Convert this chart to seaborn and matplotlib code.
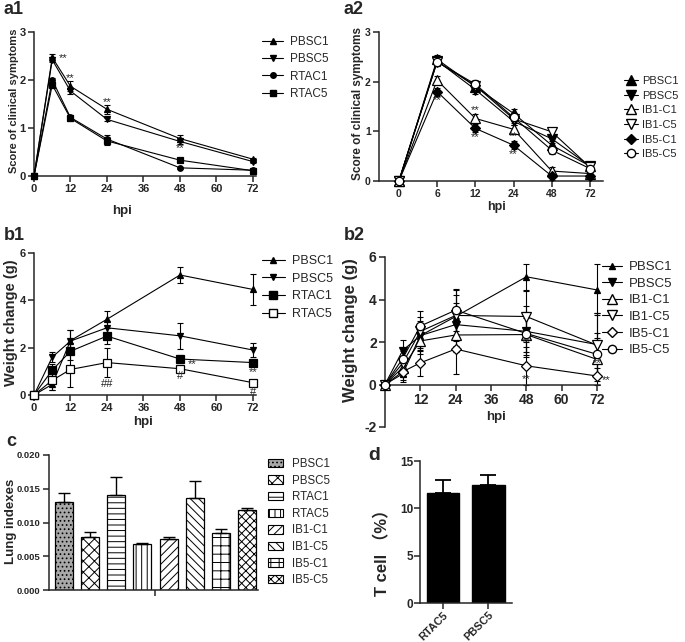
import numpy as np
import pandas as pd
import matplotlib
matplotlib.use("Agg")
import matplotlib.pyplot as plt
import seaborn as sns
from matplotlib.lines import Line2D
from matplotlib.patches import Patch

sns.set_style("ticks")
plt.rcParams["font.family"] = ["Liberation Sans", "Noto Sans CJK SC", "DejaVu Sans"]
plt.rcParams["hatch.linewidth"] = 0.7
plt.rcParams["axes.linewidth"] = 1.1
plt.rcParams["axes.unicode_minus"] = False

# ---------------- data ----------------
hours = [0, 6, 12, 24, 48, 72]

# a1: clinical score
a1_pbsc1 = [0, 2.47, 1.87, 1.39, 0.78, 0.35]
a1_pbsc5 = [0, 2.42, 1.77, 1.18, 0.72, 0.30]
a1_rtac1 = [0, 2.00, 1.22, 0.77, 0.17, 0.12]
a1_rtac5 = [0, 1.90, 1.20, 0.73, 0.33, 0.11]
a1_pbsc1_err = [0, 0.07, 0.10, 0.09, 0.08, 0.03]
a1_pbsc5_err = [0, 0.05, 0.07, 0.03, 0.05, 0.03]
a1_rtac1_err = [0, 0.05, 0.05, 0.08, 0.02, 0.02]
a1_rtac5_err = [0, 0.05, 0.05, 0.08, 0.03, 0.02]

# a2: clinical score
a2_pbsc1 = [0, 2.45, 1.90, 1.36, 0.72, 0.30]
a2_pbsc5 = [0, 2.42, 1.84, 1.20, 0.85, 0.30]
a2_ib1c1 = [0, 2.03, 1.26, 1.04, 0.20, 0.15]
a2_ib1c5 = [0, 2.40, 1.92, 1.25, 0.99, 0.28]
a2_ib5c1 = [0, 1.80, 1.06, 0.72, 0.10, 0.10]
a2_ib5c5 = [0, 2.40, 1.95, 1.28, 0.62, 0.25]
a2_err = [0, 0.08, 0.08, 0.08, 0.08, 0.04]

# b1: weight change
b1_pbsc1 = [0, 0.45, 2.30, 3.20, 5.07, 4.46]
b1_pbsc5 = [0, 1.60, 2.28, 2.84, 2.50, 1.90]
b1_rtac1 = [0, 1.05, 1.85, 2.49, 1.52, 1.37]
b1_rtac5 = [0, 0.62, 1.08, 1.37, 1.11, 0.52]
b1_pbsc1_err = [0, 0.25, 0.45, 0.35, 0.35, 0.65]
b1_pbsc5_err = [0, 0.20, 0.45, 0.30, 0.55, 0.30]
b1_rtac1_err = [0, 0.25, 0.35, 0.35, 0.15, 0.15]
b1_rtac5_err = [0, 0.40, 0.75, 0.60, 0.10, 0.05]

# b2: weight change
b2_pbsc1 = [0, 0.50, 2.30, 3.20, 5.07, 4.45]
b2_pbsc5 = [0, 1.60, 2.30, 2.82, 2.50, 1.88]
b2_ib1c1 = [0, 0.80, 2.05, 2.33, 2.35, 1.18]
b2_ib1c5 = [0, 1.00, 2.50, 3.25, 3.20, 1.85]
b2_ib5c1 = [0, 0.60, 1.02, 1.67, 0.88, 0.40]
b2_ib5c5 = [0, 1.22, 2.75, 3.50, 2.40, 1.42]
b2_pbsc1_err = [0, 0.40, 0.60, 1.00, 0.60, 1.20]
b2_pbsc5_err = [0, 0.50, 0.70, 1.00, 1.20, 1.50]
b2_ib1c1_err = [0, 0.40, 0.60, 0.80, 0.80, 1.00]
b2_ib1c5_err = [0, 0.60, 0.70, 1.20, 1.20, 1.50]
b2_ib5c1_err = [0, 0.40, 0.60, 1.17, 0.90, 0.40]
b2_ib5c5_err = [0, 0.50, 0.70, 1.00, 1.00, 1.00]

# c: lung indexes
c_groups = ["PBSC1", "PBSC5", "RTAC1", "RTAC5", "IB1-C1", "IB1-C5", "IB5-C1", "IB5-C5"]
c_values = [0.0131, 0.0078, 0.0141, 0.0068, 0.0076, 0.0137, 0.0084, 0.0119]
c_errors = [0.0013, 0.0008, 0.0027, 0.0001, 0.0003, 0.0025, 0.0006, 0.0002]
c_hatches = ["....", "xxx", "---", "|||", "////", "\\\\\\\\", "++", "xxxx"]
c_faces = ["#a8a8a8", "white", "white", "white", "white", "white", "white", "white"]

# d: T cell
d_groups = ["RTAC5", "PBSC5"]
d_values = [11.6, 12.5]
d_errors = [1.4, 1.0]

# ---------------- figure ----------------
W, H = 685, 642
fig = plt.figure(figsize=(6.85, 6.42), dpi=100)


def box(l, t, r, b):
    return [l / W, 1 - b / H, (r - l) / W, (b - t) / H]


def style_axes(ax, fs=8, pad=2):
    sns.despine(ax=ax)
    ax.set_ylabel("")
    ax.tick_params(direction="out", length=4, width=1.1, labelsize=fs, pad=pad)
    for lab in ax.get_xticklabels() + ax.get_yticklabels():
        lab.set_fontweight("bold")


def series(ax, x, y, err, marker, face, ms, label):
    sns.lineplot(x=x, y=y, ax=ax, color="black", lw=0.8, marker=marker,
                 markersize=ms, markerfacecolor=face, markeredgecolor="black",
                 markeredgewidth=0.9, label=label, clip_on=False, zorder=3)
    ax.errorbar(x, y, yerr=err, fmt="none", ecolor="black", elinewidth=0.8,
                capsize=2.5, capthick=0.8, clip_on=False, zorder=2)


def legend(ax, x, y, fs, spacing, hl=1.8, pad=0.6):
    h, l = ax.get_legend_handles_labels()
    h = [Line2D([], [], color="black", lw=0.8, marker=hh.get_marker(),
                markersize=hh.get_markersize(), markerfacecolor=hh.get_markerfacecolor(),
                markeredgecolor="black") for hh in h]
    ax.legend(h, l, loc="upper left", bbox_to_anchor=(x / W, 1 - y / H),
              bbox_transform=fig.transFigure, frameon=False, fontsize=fs,
              labelspacing=spacing, handlelength=hl, handletextpad=pad,
              borderpad=0, borderaxespad=0)


def stars(ax, pts, fs=8):
    for x, y, s, ha in pts:
        ax.text(x, y, s, ha=ha, va="center", fontsize=fs)


def fig_text(x, y, s, fs, rot=0, weight="bold"):
    fig.text(x / W, 1 - y / H, s, fontsize=fs, fontweight=weight, rotation=rot,
             ha="center", va="center")


def panel_label(x, y, s, fs=13):
    fig.text(x / W, 1 - y / H, s, fontsize=fs, fontweight="bold", ha="left", va="center")


# a1
ax = fig.add_axes(box(34, 32, 256, 176))
series(ax, hours, a1_pbsc1, a1_pbsc1_err, "^", "black", 4, "PBSC1")
series(ax, hours, a1_pbsc5, a1_pbsc5_err, "v", "black", 4, "PBSC5")
series(ax, hours, a1_rtac1, a1_rtac1_err, "o", "black", 4, "RTAC1")
series(ax, hours, a1_rtac5, a1_rtac5_err, "s", "black", 4, "RTAC5")
ax.set_xlim(0, 73)
ax.set_ylim(0, 3)
ax.set_xticks([0, 12, 24, 36, 48, 60, 72])
ax.set_yticks([0, 1, 2, 3])
style_axes(ax)
stars(ax, [(8.3, 2.45, "**", "left"), (12, 2.05, "**", "center"),
           (24, 1.53, "**", "center"), (48, 0.58, "**", "center")])
legend(ax, 262, 36, 8.5, 0.45)
fig_text(14, 101, "Score of clinical symptoms", 8, rot=90)
fig_text(122, 211, "hpi", 9.5)
panel_label(4, 10, "a1")

# a2
ax = fig.add_axes(box(379, 32, 603, 181))
idx = np.arange(len(hours))
series(ax, idx, a2_pbsc1, a2_err, "^", "black", 6.5, "PBSC1")
series(ax, idx, a2_pbsc5, a2_err, "v", "black", 6.5, "PBSC5")
series(ax, idx, a2_ib1c1, a2_err, "^", "white", 6.5, "IB1-C1")
series(ax, idx, a2_ib1c5, a2_err, "v", "white", 6.5, "IB1-C5")
series(ax, idx, a2_ib5c1, a2_err, "D", "black", 5.5, "IB5-C1")
series(ax, idx, a2_ib5c5, a2_err, "o", "white", 6, "IB5-C5")
ax.set_xlim(-0.52, 5.34)
ax.set_ylim(0, 3)
ax.set_xticks(idx)
ax.set_xticklabels([str(h) for h in hours])
ax.set_yticks([0, 1, 2, 3])
style_axes(ax, fs=7.5)
stars(ax, [(1, 1.62, "**", "center"), (2, 1.42, "**", "center"), (2, 0.88, "**", "center"),
           (3, 0.9, "**", "center"), (3, 0.55, "**", "center")])
legend(ax, 624, 76, 8, 0.42, hl=1.3, pad=0.35)
fig_text(358, 103, "Score of clinical symptoms", 8.5, rot=90)
fig_text(497, 207, "hpi", 9)
panel_label(344, 10, "a2")

# b1
ax = fig.add_axes(box(34, 253, 256, 395))
series(ax, hours, b1_pbsc1, b1_pbsc1_err, "^", "black", 5, "PBSC1")
series(ax, hours, b1_pbsc5, b1_pbsc5_err, "v", "black", 5, "PBSC5")
series(ax, hours, b1_rtac1, b1_rtac1_err, "s", "black", 5.5, "RTAC1")
series(ax, hours, b1_rtac5, b1_rtac5_err, "s", "white", 6, "RTAC5")
ax.set_xlim(0, 73)
ax.set_ylim(0, 6)
ax.set_xticks([0, 12, 24, 36, 48, 60, 72])
ax.set_yticks([0, 2, 4, 6])
style_axes(ax)
stars(ax, [(24, 0.45, "##", "center"), (50.5, 1.3, "**", "left"), (48, 0.8, "#", "center"),
           (72, 0.95, "**", "center"), (72, 0.12, "#", "center")])
legend(ax, 262, 255, 9, 0.45)
fig_text(11, 323, "Weight change (g)", 10.5, rot=90)
fig_text(143, 422, "hpi", 9.5)
panel_label(4, 235, "b1")

# b2
ax = fig.add_axes(box(385, 257, 600, 427))
series(ax, hours, b2_pbsc1, b2_pbsc1_err, "^", "black", 5, "PBSC1")
series(ax, hours, b2_pbsc5, b2_pbsc5_err, "v", "black", 6, "PBSC5")
series(ax, hours, b2_ib1c1, b2_ib1c1_err, "^", "white", 7, "IB1-C1")
series(ax, hours, b2_ib1c5, b2_ib1c5_err, "v", "white", 7, "IB1-C5")
series(ax, hours, b2_ib5c1, b2_ib5c1_err, "D", "white", 5.5, "IB5-C1")
series(ax, hours, b2_ib5c5, b2_ib5c5_err, "o", "white", 6, "IB5-C5")
ax.set_xlim(0, 73)
ax.set_ylim(-2, 6)
ax.set_xticks([12, 24, 36, 48, 60, 72])
ax.set_yticks([-2, 0, 2, 4, 6])
ax.spines["bottom"].set_position(("data", 0))
style_axes(ax, fs=10)
stars(ax, [(48, 2.0, "**", "center"), (48, 0.25, "**", "center"),
           (72, 1.0, "**", "center"), (73.5, 0.2, "**", "left")])
legend(ax, 602, 261, 9.5, 0.33, hl=1.5, pad=0.5)
fig_text(351, 330, "Weight change (g)", 12, rot=90)
fig_text(496, 417, "hpi", 9.5)
panel_label(344, 236, "b2")

# c
ax = fig.add_axes(box(49, 455, 258, 590))
sns.barplot(x=c_groups, y=c_values, ax=ax, color="white", edgecolor="black",
            linewidth=0.9, width=0.69, errorbar=None)
for p, hatch, face in zip(ax.patches, c_hatches, c_faces):
    p.set_hatch(hatch)
    p.set_facecolor(face)
ax.errorbar(np.arange(len(c_groups)), c_values, yerr=[np.zeros(len(c_errors)), c_errors],
            fmt="none", ecolor="black", elinewidth=1, capsize=4, capthick=1)
ax.set_xlim(-0.57, 7.42)
ax.set_ylim(0, 0.020)
ax.set_xticks([3.5])
ax.set_xticklabels([""])
ax.set_yticks([0, 0.005, 0.010, 0.015, 0.020])
ax.set_yticklabels(["0.000", "0.005", "0.010", "0.015", "0.020"])
style_axes(ax, fs=6.8)
handles = [Patch(facecolor=f, edgecolor="black", hatch=h, lw=0.8) for f, h in zip(c_faces, c_hatches)]
ax.legend(handles, c_groups, loc="upper left", bbox_to_anchor=(268 / W, 1 - 458 / H),
          bbox_transform=fig.transFigure, frameon=False, fontsize=8.3,
          labelspacing=0.4, handlelength=1.3, handleheight=0.75, handletextpad=0.8,
          borderpad=0, borderaxespad=0)
fig_text(11, 521, "Lung indexes", 9.5, rot=90)
panel_label(6, 442, "c")

# d
ax = fig.add_axes(box(420, 461, 512, 603))
sns.barplot(x=d_groups, y=d_values, ax=ax, color="black", edgecolor="black",
            width=0.73, errorbar=None)
ax.errorbar(np.arange(len(d_groups)), d_values, yerr=[np.zeros(len(d_errors)), d_errors],
            fmt="none", ecolor="black", elinewidth=1.3, capsize=6, capthick=1.3)
ax.set_xlim(-0.51, 1.53)
ax.set_ylim(0, 15)
ax.set_yticks([0, 5, 10, 15])
style_axes(ax, fs=8.5, pad=1)
for lab in ax.get_xticklabels():
    lab.set_rotation(45)
    lab.set_ha("right")
    lab.set_rotation_mode("anchor")
    lab.set_fontsize(7.8)
fig_text(382, 549, "T cell （%）", 12, rot=90)
panel_label(368, 456, "d", fs=14)

fig.savefig("out.png", dpi=100)
